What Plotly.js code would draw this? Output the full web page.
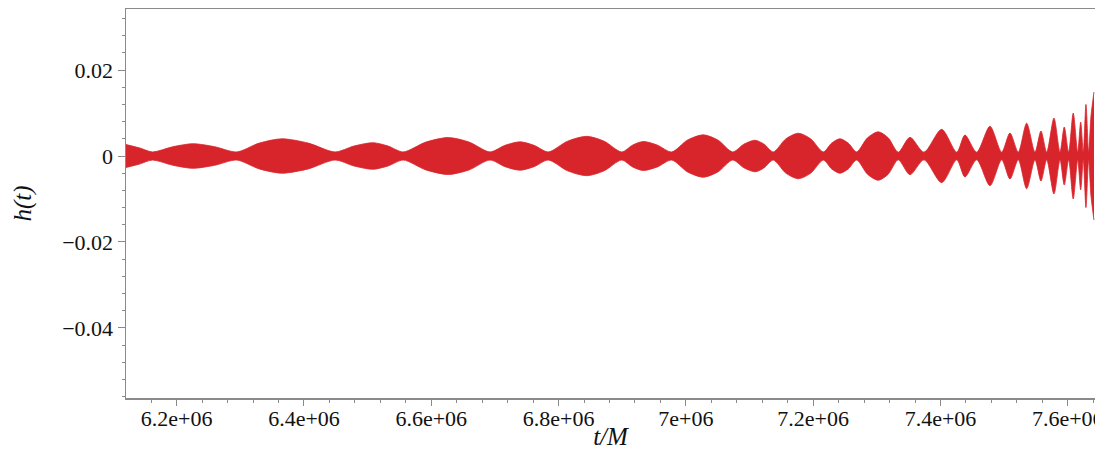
<!DOCTYPE html>
<html>
<head>
<meta charset="utf-8">
<script src="https://cdn.plot.ly/plotly-3.0.1.min.js"></script>
<style>
  html, body { margin: 0; padding: 0; background: #fff; }
  #chart { width: 1095px; height: 450px; }
</style>
</head>
<body>
<div id="chart"></div>
<script>
// Envelope of the beating waveform h(t): times (t/M) read along the envelope (peaks, flanks, nodes)
const envTime = [
  6.1204e6, 6.1412e6, 6.1620e6, 6.1938e6, 6.2256e6, 6.2600e6, 6.2943e6, 6.3297e6,
  6.3650e6, 6.4069e6, 6.4487e6, 6.4786e6, 6.5084e6, 6.5322e6, 6.5560e6, 6.5914e6,
  6.6267e6, 6.6595e6, 6.6922e6, 6.7158e6, 6.7394e6, 6.7616e6, 6.7838e6, 6.8140e6,
  6.8442e6, 6.8717e6, 6.8991e6, 6.9161e6, 6.9331e6, 6.9554e6, 6.9777e6, 7.0025e6,
  7.0273e6, 7.0504e6, 7.0735e6, 7.0911e6, 7.1086e6, 7.1230e6, 7.1373e6, 7.1570e6,
  7.1766e6, 7.1963e6, 7.2159e6, 7.2290e6, 7.2421e6, 7.2552e6, 7.2683e6, 7.2853e6,
  7.3023e6, 7.3180e6, 7.3337e6, 7.3521e6, 7.3741e6, 7.4019e6, 7.4255e6, 7.4385e6,
  7.4569e6, 7.4778e6, 7.4962e6, 7.5092e6, 7.5222e6, 7.5354e6, 7.5485e6, 7.5579e6,
  7.5669e6, 7.5783e6, 7.5878e6, 7.5945e6, 7.6014e6, 7.6086e6, 7.6156e6, 7.6203e6,
  7.6244e6, 7.6286e6, 7.6328e6, 7.6365e6, 7.6412e6
];
// Envelope half-amplitude |h| at those times
const envAmp = [
  0.00267, 0.00190, 0.00095, 0.00215, 0.00286, 0.00215, 0.00095, 0.00300,
  0.00400, 0.00300, 0.00095, 0.00232, 0.00309, 0.00232, 0.00095, 0.00323,
  0.00430, 0.00323, 0.00095, 0.00248, 0.00330, 0.00248, 0.00095, 0.00344,
  0.00458, 0.00344, 0.00095, 0.00253, 0.00337, 0.00253, 0.00095, 0.00370,
  0.00493, 0.00370, 0.00095, 0.00275, 0.00367, 0.00275, 0.00095, 0.00398,
  0.00530, 0.00398, 0.00095, 0.00300, 0.00400, 0.00300, 0.00095, 0.00422,
  0.00563, 0.00422, 0.00090, 0.00435, 0.00090, 0.00621, 0.00090, 0.00488,
  0.00090, 0.00691, 0.00090, 0.00535, 0.00090, 0.00763, 0.00090, 0.00582,
  0.00090, 0.00884, 0.00090, 0.00675, 0.00090, 0.01000, 0.00090, 0.00790,
  0.00090, 0.01200, 0.00090, 0.00930, 0.01490
];
const xTickVals = [6.2e6, 6.4e6, 6.6e6, 6.8e6, 7.0e6, 7.2e6, 7.4e6, 7.6e6];
const xTickText = ['6.2e+06', '6.4e+06', '6.6e+06', '6.8e+06', '7e+06', '7.2e+06', '7.4e+06', '7.6e+06'];
const yTickVals = [0.02, 0, -0.02, -0.04];
const yTickText = ['0.02', '0', '\u22120.02', '\u22120.04'];

const red = 'rgb(216,36,43)';
const lower = envAmp.map(v => -v);

const traces = [
  { x: envTime, y: lower, type: 'scatter', mode: 'lines',
    line: { color: red, width: 0.8, shape: 'spline', smoothing: 0.8 },
    hoverinfo: 'skip', showlegend: false },
  { x: envTime, y: envAmp, type: 'scatter', mode: 'lines',
    line: { color: red, width: 0.8, shape: 'spline', smoothing: 0.8 },
    fill: 'tonexty', fillcolor: red,
    hoverinfo: 'skip', showlegend: false }
];

const axisColor = '#8a8a8a';
const serif = "'Liberation Serif', 'Times New Roman', serif";

const layout = {
  width: 1095, height: 450,
  margin: { l: 126, r: 0, t: 9, b: 52, pad: 0 },
  paper_bgcolor: '#fff', plot_bgcolor: '#fff',
  showlegend: false,
  font: { family: serif, size: 22, color: '#111' },
  xaxis: {
    range: [6.1204e6, 7.6428e6],
    tickmode: 'array', tickvals: xTickVals, ticktext: xTickText,
    ticks: 'outside', ticklen: 6, tickwidth: 1, tickcolor: axisColor,
    minor: { tickmode: 'linear', tick0: 0, dtick: 40000, ticks: 'outside', ticklen: 3, tickwidth: 1, tickcolor: axisColor, showgrid: false },
    showline: true, linecolor: axisColor, linewidth: 1.5, mirror: true,
    showgrid: false, zeroline: false,
    tickfont: { family: serif, size: 22, color: '#111' },
    ticklabelstandoff: -6,
    ticklabeloverflow: 'allow',
    title: { text: 't/M', font: { family: serif, size: 25, color: '#111', style: 'italic' }, standoff: 4 },
    automargin: false
  },
  yaxis: {
    range: [-0.0563, 0.0342],
    tickmode: 'array', tickvals: yTickVals, ticktext: yTickText,
    ticks: 'outside', ticklen: 7, tickwidth: 1, tickcolor: axisColor,
    minor: { tickmode: 'linear', tick0: 0, dtick: 0.004, ticks: 'outside', ticklen: 3, tickwidth: 1, tickcolor: axisColor, showgrid: false },
    showline: true, linecolor: axisColor, linewidth: 1.5,
    showgrid: false, zeroline: false,
    tickfont: { family: serif, size: 22, color: '#111' },
    title: { text: 'h(t)', font: { family: serif, size: 25, color: '#111', style: 'italic' }, standoff: 23 },
    automargin: false
  }
};

Plotly.newPlot('chart', traces, layout, { displayModeBar: false, staticPlot: true });
</script>
</body>
</html>
